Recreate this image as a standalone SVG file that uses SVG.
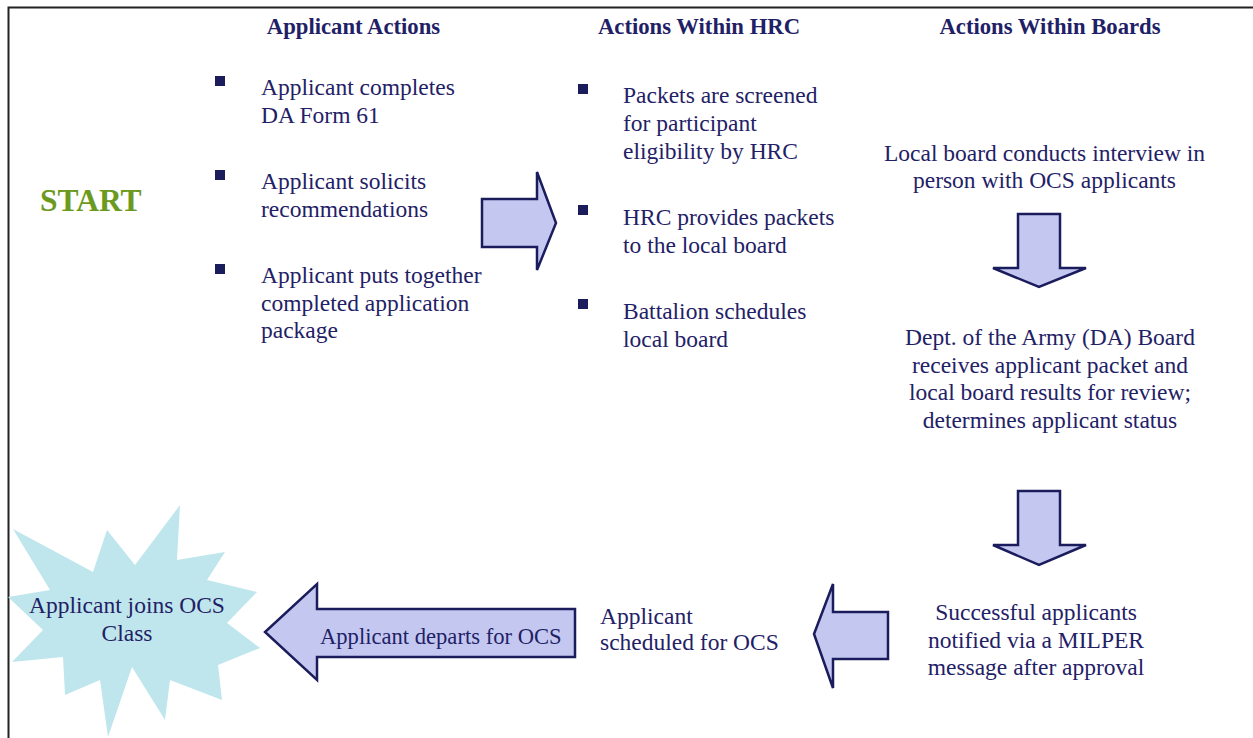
<svg xmlns="http://www.w3.org/2000/svg" width="1253" height="738" viewBox="0 0 1253 738">
<style>
text{fill:#1f2166;font-size:23.5px}
.h{font-weight:bold;font-size:22.7px;text-anchor:middle}
.c{text-anchor:middle}
.b{fill:#1a1c5c}
.arr{fill:#c4c8f1;stroke:#1a1c5c;stroke-width:2.5;stroke-linejoin:miter}
</style>
<rect width="1253" height="738" fill="#fff"/>
<path d="M8.5 738V7.5H1253" fill="none" stroke="#222" stroke-width="2"/>
<g font-family="'Liberation Serif', 'Times New Roman', Times, 'DejaVu Serif', serif">
<g id="headers">
<text class="h" x="353.5" y="34">Applicant Actions</text>
<text class="h" x="699" y="34">Actions Within HRC</text>
<text class="h" x="1050" y="34">Actions Within Boards</text>
</g>
<g id="start"><text x="40" y="211" style="font-weight:bold;font-size:31.5px;fill:#6b9a1e">START</text></g>
<g id="applicant">
<rect class="b" x="215" y="76" width="10" height="10"/>
<rect class="b" x="215" y="170" width="10" height="10"/>
<rect class="b" x="215" y="264" width="10" height="10"/>
<text x="261" y="95">Applicant completes</text>
<text x="261" y="123">DA Form 61</text>
<text x="261" y="189">Applicant solicits</text>
<text x="261" y="217">recommendations</text>
<text x="261" y="283">Applicant puts together</text>
<text x="261" y="311">completed application</text>
<text x="261" y="338">package</text>
</g>
<g id="hrc">
<rect class="b" x="578" y="84" width="10" height="10"/>
<rect class="b" x="578" y="205" width="10" height="10"/>
<rect class="b" x="578" y="299" width="10" height="10"/>
<text x="623" y="103">Packets are screened</text>
<text x="623" y="131">for participant</text>
<text x="623" y="159">eligibility by HRC</text>
<text x="623" y="225">HRC provides packets</text>
<text x="623" y="253">to the local board</text>
<text x="623" y="319">Battalion schedules</text>
<text x="623" y="347">local board</text>
</g>
<g id="local-board">
<text class="c" x="1044.5" y="161">Local board conducts interview in</text>
<text class="c" x="1044.5" y="188">person with OCS applicants</text>
</g>
<g id="da-board">
<text class="c" x="1050" y="345">Dept. of the Army (DA) Board</text>
<text class="c" x="1050" y="373">receives applicant packet and</text>
<text class="c" x="1050" y="400">local board results for review;</text>
<text class="c" x="1050" y="428">determines applicant status</text>
</g>
<g id="successful">
<text class="c" x="1036" y="620">Successful applicants</text>
<text class="c" x="1036" y="648">notified via a MILPER</text>
<text class="c" x="1036" y="675">message after approval</text>
</g>
<g id="scheduled">
<text x="600" y="624">Applicant</text>
<text x="600" y="650">scheduled for OCS</text>
</g>
<g id="joins">
<polygon fill="#bfe6ec" points="180,505 177,560 225,552 207,580 257,592 227,623 260,648 218,665 222,700 170,680 165,720 132,667 108,737 100,680 65,695 63,657 12,662 43,630 8,597 50,590 13,529 93,572 107,530 135,565"/>
<text class="c" x="127" y="613">Applicant joins OCS</text>
<text class="c" x="127" y="641">Class</text>
</g>
<g id="connectors">
<polygon class="arr" points="482,199 537,199 537,172 556,223 537,270 537,247 482,247"/>
<polygon class="arr" points="1018,214 1060,214 1060,268 1086,268 1039,287 993,268 1018,268"/>
<polygon class="arr" points="1018,491 1060,491 1060,545 1086,545 1039,565 993,545 1018,545"/>
<polygon class="arr" points="888,612 833,612 833,584 814,634 833,688 833,659 888,659"/>
<polygon class="arr" points="575,609 317,609 317,584 265,632 317,680 317,657 575,657"/>
<text x="320" y="644" style="font-size:22.6px">Applicant departs for OCS</text>
</g>
</g>
</svg>
